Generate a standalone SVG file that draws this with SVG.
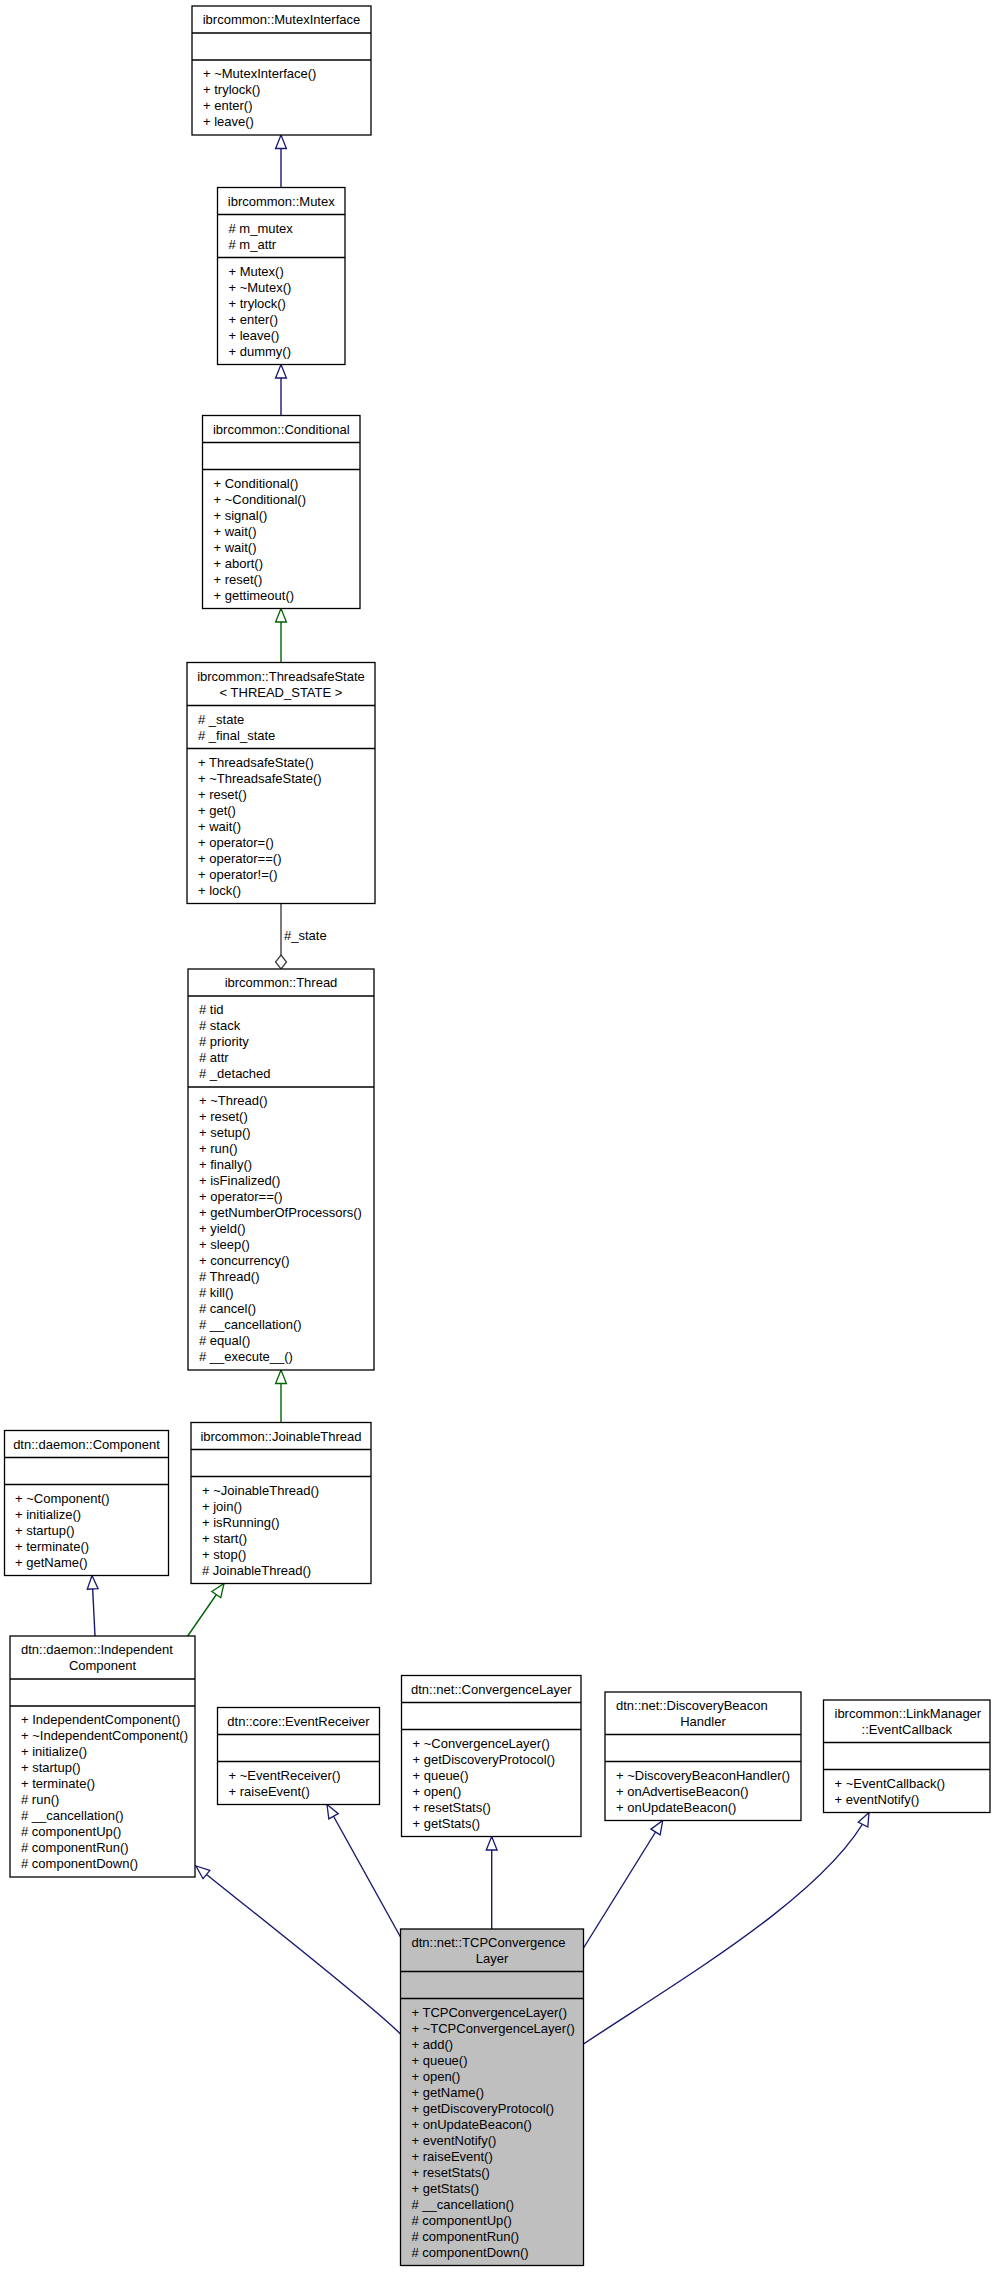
<svg xmlns="http://www.w3.org/2000/svg" width="995" height="2272" viewBox="0 0 995 2272">
<style>
.box{fill:#fff;stroke:#000;stroke-width:1.3}
.gray{fill:#bfbfbf}
.dv{stroke:#000;stroke-width:1.6}
text{font-family:"Liberation Sans",Arial,Helvetica,sans-serif;font-size:13px;fill:#000}
.c{text-anchor:middle}
.e{fill:none;stroke-width:1.4}
.pub{stroke:#191970}
.pro{stroke:#006400}
.agg{stroke:#404040}
</style>
<defs>
<marker id="tb" markerUnits="userSpaceOnUse" markerWidth="16" markerHeight="13" refX="14" refY="6" orient="auto" overflow="visible"><path d="M0.5,0.6 L14,6 L0.5,11.4 Z" fill="#fff" stroke="#191970" stroke-width="1.3"/></marker>
<marker id="tg" markerUnits="userSpaceOnUse" markerWidth="16" markerHeight="13" refX="14" refY="6" orient="auto" overflow="visible"><path d="M0.5,0.6 L14,6 L0.5,11.4 Z" fill="#fff" stroke="#006400" stroke-width="1.3"/></marker>
<marker id="dm" markerUnits="userSpaceOnUse" markerWidth="16" markerHeight="13" refX="14.5" refY="5.5" orient="auto" overflow="visible"><path d="M0.5,5.5 L7.5,0 L14.5,5.5 L7.5,11 Z" fill="#fff" stroke="#404040" stroke-width="1.3"/></marker>
</defs>

<g id="edges">
<path class="e pub" d="M281,187.5 L281,135" marker-end="url(#tb)"/>
<path class="e pub" d="M281,415.5 L281,364.5" marker-end="url(#tb)"/>
<path class="e pro" d="M281,662.5 L281,608.5" marker-end="url(#tg)"/>
<path class="e agg" d="M281,903.5 L281,969" marker-end="url(#dm)"/>
<text x="284" y="940">#_state</text>
<path class="e pro" d="M281,1422.5 L281,1370" marker-end="url(#tg)"/>
<path class="e pub" d="M95,1636 L92,1575.5" marker-end="url(#tb)"/>
<path class="e pro" d="M187.7,1636 L224,1583.5" marker-end="url(#tg)"/>
<path class="e pub" d="M400.5,2034 C360,1995 250,1910 196,1866" marker-end="url(#tb)"/>
<path class="e pub" d="M400.5,1937 L327,1804.5" marker-end="url(#tb)"/>
<path class="e pub" d="M491.7,1929 L491.7,1836.5" marker-end="url(#tb)"/>
<path class="e pub" d="M583.5,1948 L662.7,1820.5" marker-end="url(#tb)"/>
<path class="e pub" d="M583.5,2044 C683,1978 829,1893 869,1812.5" marker-end="url(#tb)"/>
</g>

<g id="MutexInterface">
<rect class="box" x="192" y="6" width="179" height="129"/>
<line class="dv" x1="192" y1="33" x2="371" y2="33"/>
<line class="dv" x1="192" y1="60" x2="371" y2="60"/>
<text class="c" x="281.5" y="24">ibrcommon::MutexInterface</text>
<text x="203" y="78">+ ~MutexInterface()</text>
<text x="203" y="94">+ trylock()</text>
<text x="203" y="110">+ enter()</text>
<text x="203" y="126">+ leave()</text>
</g>

<g id="Mutex">
<rect class="box" x="217.5" y="187.5" width="127.5" height="177"/>
<line class="dv" x1="217.5" y1="214.5" x2="345" y2="214.5"/>
<line class="dv" x1="217.5" y1="257.5" x2="345" y2="257.5"/>
<text class="c" x="281.25" y="205.5">ibrcommon::Mutex</text>
<text x="228.5" y="232.5"># m_mutex</text>
<text x="228.5" y="248.5"># m_attr</text>
<text x="228.5" y="275.5">+ Mutex()</text>
<text x="228.5" y="291.5">+ ~Mutex()</text>
<text x="228.5" y="307.5">+ trylock()</text>
<text x="228.5" y="323.5">+ enter()</text>
<text x="228.5" y="339.5">+ leave()</text>
<text x="228.5" y="355.5">+ dummy()</text>
</g>

<g id="Conditional">
<rect class="box" x="202.5" y="415.5" width="157.5" height="193"/>
<line class="dv" x1="202.5" y1="442.5" x2="360" y2="442.5"/>
<line class="dv" x1="202.5" y1="469.5" x2="360" y2="469.5"/>
<text class="c" x="281.25" y="433.5">ibrcommon::Conditional</text>
<text x="213.5" y="487.5">+ Conditional()</text>
<text x="213.5" y="503.5">+ ~Conditional()</text>
<text x="213.5" y="519.5">+ signal()</text>
<text x="213.5" y="535.5">+ wait()</text>
<text x="213.5" y="551.5">+ wait()</text>
<text x="213.5" y="567.5">+ abort()</text>
<text x="213.5" y="583.5">+ reset()</text>
<text x="213.5" y="599.5">+ gettimeout()</text>
</g>

<g id="ThreadsafeState">
<rect class="box" x="187" y="662.5" width="188" height="241"/>
<line class="dv" x1="187" y1="705.5" x2="375" y2="705.5"/>
<line class="dv" x1="187" y1="748.5" x2="375" y2="748.5"/>
<text class="c" x="281" y="680.5">ibrcommon::ThreadsafeState</text>
<text class="c" x="281" y="696.5">&lt; THREAD_STATE &gt;</text>
<text x="198" y="723.5"># _state</text>
<text x="198" y="739.5"># _final_state</text>
<text x="198" y="766.5">+ ThreadsafeState()</text>
<text x="198" y="782.5">+ ~ThreadsafeState()</text>
<text x="198" y="798.5">+ reset()</text>
<text x="198" y="814.5">+ get()</text>
<text x="198" y="830.5">+ wait()</text>
<text x="198" y="846.5">+ operator=()</text>
<text x="198" y="862.5">+ operator==()</text>
<text x="198" y="878.5">+ operator!=()</text>
<text x="198" y="894.5">+ lock()</text>
</g>

<g id="Thread">
<rect class="box" x="188" y="969" width="186" height="401"/>
<line class="dv" x1="188" y1="996" x2="374" y2="996"/>
<line class="dv" x1="188" y1="1087" x2="374" y2="1087"/>
<text class="c" x="281" y="987">ibrcommon::Thread</text>
<text x="199" y="1014"># tid</text>
<text x="199" y="1030"># stack</text>
<text x="199" y="1046"># priority</text>
<text x="199" y="1062"># attr</text>
<text x="199" y="1078"># _detached</text>
<text x="199" y="1105">+ ~Thread()</text>
<text x="199" y="1121">+ reset()</text>
<text x="199" y="1137">+ setup()</text>
<text x="199" y="1153">+ run()</text>
<text x="199" y="1169">+ finally()</text>
<text x="199" y="1185">+ isFinalized()</text>
<text x="199" y="1201">+ operator==()</text>
<text x="199" y="1217">+ getNumberOfProcessors()</text>
<text x="199" y="1233">+ yield()</text>
<text x="199" y="1249">+ sleep()</text>
<text x="199" y="1265">+ concurrency()</text>
<text x="199" y="1281"># Thread()</text>
<text x="199" y="1297"># kill()</text>
<text x="199" y="1313"># cancel()</text>
<text x="199" y="1329"># __cancellation()</text>
<text x="199" y="1345"># equal()</text>
<text x="199" y="1361"># __execute__()</text>
</g>

<g id="JoinableThread">
<rect class="box" x="191" y="1422.5" width="180" height="161"/>
<line class="dv" x1="191" y1="1449.5" x2="371" y2="1449.5"/>
<line class="dv" x1="191" y1="1476.5" x2="371" y2="1476.5"/>
<text class="c" x="281" y="1440.5">ibrcommon::JoinableThread</text>
<text x="202" y="1494.5">+ ~JoinableThread()</text>
<text x="202" y="1510.5">+ join()</text>
<text x="202" y="1526.5">+ isRunning()</text>
<text x="202" y="1542.5">+ start()</text>
<text x="202" y="1558.5">+ stop()</text>
<text x="202" y="1574.5"># JoinableThread()</text>
</g>

<g id="Component">
<rect class="box" x="4.5" y="1430.5" width="164" height="145"/>
<line class="dv" x1="4.5" y1="1457.5" x2="168.5" y2="1457.5"/>
<line class="dv" x1="4.5" y1="1484.5" x2="168.5" y2="1484.5"/>
<text class="c" x="86.5" y="1448.5">dtn::daemon::Component</text>
<text x="15" y="1502.5">+ ~Component()</text>
<text x="15" y="1518.5">+ initialize()</text>
<text x="15" y="1534.5">+ startup()</text>
<text x="15" y="1550.5">+ terminate()</text>
<text x="15" y="1566.5">+ getName()</text>
</g>

<g id="IndependentComponent">
<rect class="box" x="10" y="1636" width="185" height="241"/>
<line class="dv" x1="10" y1="1679" x2="195" y2="1679"/>
<line class="dv" x1="10" y1="1706" x2="195" y2="1706"/>
<text x="21" y="1654">dtn::daemon::Independent</text>
<text class="c" x="102.5" y="1670">Component</text>
<text x="21" y="1724">+ IndependentComponent()</text>
<text x="21" y="1740">+ ~IndependentComponent()</text>
<text x="21" y="1756">+ initialize()</text>
<text x="21" y="1772">+ startup()</text>
<text x="21" y="1788">+ terminate()</text>
<text x="21" y="1804"># run()</text>
<text x="21" y="1820"># __cancellation()</text>
<text x="21" y="1836"># componentUp()</text>
<text x="21" y="1852"># componentRun()</text>
<text x="21" y="1868"># componentDown()</text>
</g>

<g id="EventReceiver">
<rect class="box" x="217.5" y="1707.5" width="162" height="97"/>
<line class="dv" x1="217.5" y1="1734.5" x2="379.5" y2="1734.5"/>
<line class="dv" x1="217.5" y1="1761.5" x2="379.5" y2="1761.5"/>
<text class="c" x="298.5" y="1725.5">dtn::core::EventReceiver</text>
<text x="228.5" y="1779.5">+ ~EventReceiver()</text>
<text x="228.5" y="1795.5">+ raiseEvent()</text>
</g>

<g id="ConvergenceLayer">
<rect class="box" x="401.5" y="1675.5" width="179.5" height="161"/>
<line class="dv" x1="401.5" y1="1702.5" x2="581" y2="1702.5"/>
<line class="dv" x1="401.5" y1="1729.5" x2="581" y2="1729.5"/>
<text class="c" x="491.25" y="1693.5">dtn::net::ConvergenceLayer</text>
<text x="412.5" y="1747.5">+ ~ConvergenceLayer()</text>
<text x="412.5" y="1763.5">+ getDiscoveryProtocol()</text>
<text x="412.5" y="1779.5">+ queue()</text>
<text x="412.5" y="1795.5">+ open()</text>
<text x="412.5" y="1811.5">+ resetStats()</text>
<text x="412.5" y="1827.5">+ getStats()</text>
</g>

<g id="DiscoveryBeaconHandler">
<rect class="box" x="605" y="1692" width="196" height="128.5"/>
<line class="dv" x1="605" y1="1734.5" x2="801" y2="1734.5"/>
<line class="dv" x1="605" y1="1761.5" x2="801" y2="1761.5"/>
<text x="616" y="1710">dtn::net::DiscoveryBeacon</text>
<text class="c" x="703" y="1726">Handler</text>
<text x="616" y="1779.5">+ ~DiscoveryBeaconHandler()</text>
<text x="616" y="1795.5">+ onAdvertiseBeacon()</text>
<text x="616" y="1811.5">+ onUpdateBeacon()</text>
</g>

<g id="EventCallback">
<rect class="box" x="823.5" y="1700" width="166.5" height="112.5"/>
<line class="dv" x1="823.5" y1="1742.5" x2="990" y2="1742.5"/>
<line class="dv" x1="823.5" y1="1769.5" x2="990" y2="1769.5"/>
<text x="834.5" y="1718">ibrcommon::LinkManager</text>
<text class="c" x="906.75" y="1734">::EventCallback</text>
<text x="834.5" y="1787.5">+ ~EventCallback()</text>
<text x="834.5" y="1803.5">+ eventNotify()</text>
</g>

<g id="TCPConvergenceLayer">
<rect class="box gray" x="400.5" y="1929" width="183" height="336.5"/>
<line class="dv" x1="400.5" y1="1971.5" x2="583.5" y2="1971.5"/>
<line class="dv" x1="400.5" y1="1998.5" x2="583.5" y2="1998.5"/>
<text x="411.5" y="1947">dtn::net::TCPConvergence</text>
<text class="c" x="492" y="1963">Layer</text>
<text x="411.5" y="2016.5">+ TCPConvergenceLayer()</text>
<text x="411.5" y="2032.5">+ ~TCPConvergenceLayer()</text>
<text x="411.5" y="2048.5">+ add()</text>
<text x="411.5" y="2064.5">+ queue()</text>
<text x="411.5" y="2080.5">+ open()</text>
<text x="411.5" y="2096.5">+ getName()</text>
<text x="411.5" y="2112.5">+ getDiscoveryProtocol()</text>
<text x="411.5" y="2128.5">+ onUpdateBeacon()</text>
<text x="411.5" y="2144.5">+ eventNotify()</text>
<text x="411.5" y="2160.5">+ raiseEvent()</text>
<text x="411.5" y="2176.5">+ resetStats()</text>
<text x="411.5" y="2192.5">+ getStats()</text>
<text x="411.5" y="2208.5"># __cancellation()</text>
<text x="411.5" y="2224.5"># componentUp()</text>
<text x="411.5" y="2240.5"># componentRun()</text>
<text x="411.5" y="2256.5"># componentDown()</text>
</g>
</svg>
